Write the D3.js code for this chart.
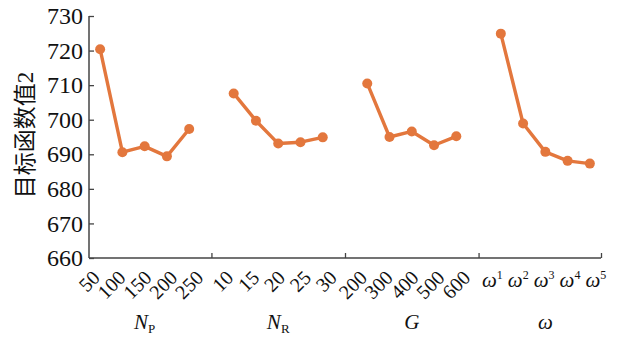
<!DOCTYPE html>
<html><head><meta charset="utf-8">
<script src="https://cdn.jsdelivr.net/npm/d3@7"></script>
<style>html,body{margin:0;padding:0;background:#fff;}svg{display:block;}</style>
</head><body><svg id="c" width="618" height="340"></svg>
<script>
// Data
const groups = ["NP", "NR", "G", "omega"];
const npLabels = ["50", "100", "150", "200", "250"];
const nrLabels = ["10", "15", "20", "25", "30"];
const gLabels = ["200", "300", "400", "500", "600"];
const omegaLabels = ["1", "2", "3", "4", "5"];
const npValues = [720.4, 690.6, 692.3, 689.4, 697.3];
const nrValues = [707.6, 699.7, 693.1, 693.5, 694.9];
const gValues = [710.5, 695.0, 696.6, 692.6, 695.2];
const omegaValues = [724.9, 698.9, 690.7, 688.1, 687.3];
const yTicks = [660, 670, 680, 690, 700, 710, 720, 730];
const yTitle = "目标函数值2";

const series = [
  {labels: npLabels, values: npValues, name: "N", sub: "P"},
  {labels: nrLabels, values: nrValues, name: "N", sub: "R"},
  {labels: gLabels, values: gValues, name: "G", sub: null},
  {labels: omegaLabels, values: omegaValues, name: "ω", sub: null, omega: true}
];
const color = "#E3773D";
const axisColor = "#444";
const serif = "'Liberation Serif','Times New Roman',serif";

const svg = d3.select("#c");
const mLeft = 89, mRight = 601, mTop = 16, mBottom = 258;
const perGroup = 5, gap = 1;
const nSlots = series.length * perGroup + (series.length - 1) * gap;
const x = d3.scaleLinear().domain([-0.5, nSlots - 0.5]).range([mLeft, mRight]);
const y = d3.scaleLinear().domain([660, 730]).range([mBottom, mTop]);
const labelShift = 3.6; // tick labels are spread a little wider than the points

// Y axis
const yAxis = d3.axisLeft(y).tickValues(yTicks).tickSize(-5).tickPadding(6).tickFormat(d3.format("d"));
const gy = svg.append("g").attr("transform", `translate(${mLeft},0)`).call(yAxis);
gy.select(".domain").attr("stroke", axisColor).attr("stroke-width", 1.5).attr("d", `M0,${mBottom}V${mTop}`);
gy.selectAll(".tick line").attr("stroke", axisColor).attr("stroke-width", 1.3);
gy.selectAll(".tick text").attr("font-family", serif).attr("font-size", 24).attr("fill", "#111");

// X axis line and group separator ticks
const sepIdx = series.map((s, gi) => gi === series.length - 1 ? nSlots - 0.5 : gi * (perGroup + gap) + perGroup);
const xAxis = d3.axisBottom(x).tickValues(sepIdx).tickSize(-5).tickFormat("");
const gx = svg.append("g").attr("transform", `translate(0,${mBottom})`).call(xAxis);
gx.select(".domain").attr("stroke", axisColor).attr("stroke-width", 1.5).attr("d", `M${mLeft},0H${mRight}`);
gx.selectAll(".tick line").attr("stroke", axisColor).attr("stroke-width", 1.3);

// Series
series.forEach((s, gi) => {
  const base = gi * (perGroup + gap);
  const pts = s.values.map((v, i) => ({i: base + i, k: i, v: v, label: s.labels[i]}));
  const line = d3.line().x(d => x(d.i)).y(d => y(d.v));
  svg.append("path").datum(pts).attr("d", line).attr("fill", "none")
    .attr("stroke", color).attr("stroke-width", 3.4).attr("stroke-linejoin", "round");
  svg.selectAll(null).data(pts).enter().append("circle")
    .attr("cx", d => x(d.i)).attr("cy", d => y(d.v)).attr("r", 5).attr("fill", color);

  if (s.omega) {
    pts.forEach(d => {
      const t = svg.append("text").attr("font-family", serif).attr("font-size", 21).attr("fill", "#111")
        .attr("text-anchor", "end")
        .attr("transform", `translate(${x(d.i) + 2 + d.k * labelShift},${mBottom + 29})`);
      t.append("tspan").attr("font-style", "italic").text("ω");
      t.append("tspan").attr("font-size", 12).attr("dy", -8).attr("dx", 0).text(d.label);
    });
  } else {
    svg.selectAll(null).data(pts).enter().append("text")
      .attr("font-family", serif).attr("font-size", 20).attr("fill", "#111")
      .attr("text-anchor", "end")
      .attr("transform", d => `translate(${x(d.i) - 4 + d.k * labelShift},${mBottom + 16}) rotate(-45)`)
      .attr("dy", "0.35em")
      .text(d => d.label);
  }

  const cx = x(base + 2);
  const gt = svg.append("text").attr("font-family", serif).attr("font-size", 21).attr("fill", "#111")
    .attr("text-anchor", "middle").attr("x", cx).attr("y", 329);
  gt.append("tspan").attr("font-style", "italic").text(s.name);
  if (s.sub) gt.append("tspan").attr("font-size", 13).attr("dy", 4).text(s.sub);
});

// Y title
svg.append("text").attr("transform", `translate(33,135) rotate(-90)`)
  .attr("text-anchor", "middle").attr("font-family", "'Liberation Serif','Noto Sans CJK SC',serif")
  .attr("font-size", 23).attr("fill", "#111").text(yTitle);
</script></body></html>
